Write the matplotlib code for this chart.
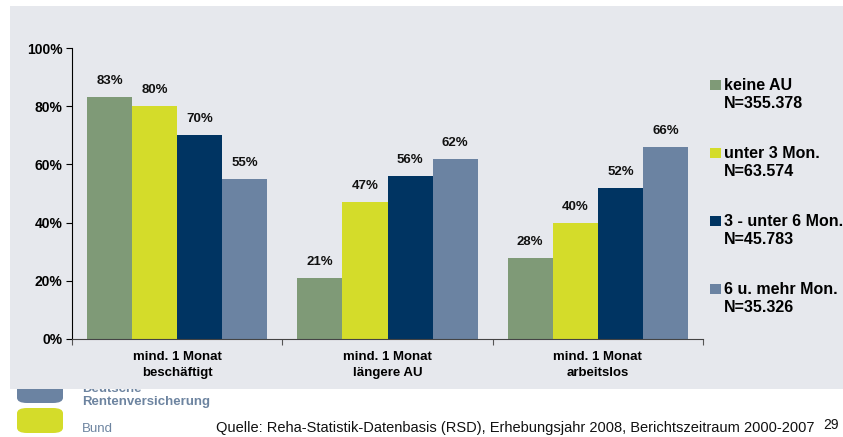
import numpy as np
import matplotlib
matplotlib.use("Agg")
import matplotlib.pyplot as plt
from matplotlib.patches import Rectangle, FancyBboxPatch

# data
categories = ["mind. 1 Monat\nbeschäftigt", "mind. 1 Monat\nlängere AU", "mind. 1 Monat\narbeitslos"]
series_names = ["keine AU", "unter 3 Mon.", "3 - unter 6 Mon.", "6 u. mehr Mon."]
series_n = ["N=355.378", "N=63.574", "N=45.783", "N=35.326"]
values = [
    [83, 21, 28],   # keine AU
    [80, 47, 40],   # unter 3 Mon.
    [70, 56, 52],   # 3 - unter 6 Mon.
    [55, 62, 66],   # 6 u. mehr Mon.
]
yticks = [0, 20, 40, 60, 80, 100]
colors = ["#7f9a77", "#d4dc2a", "#003462", "#6b83a2"]
source = "Quelle: Reha-Statistik-Datenbasis (RSD), Erhebungsjahr 2008, Berichtszeitraum 2000-2007"

plt.rcParams['font.family'] = ['Liberation Sans', 'DejaVu Sans']

W, H = 843, 437
fig = plt.figure(figsize=(W / 100, H / 100), dpi=100)
fig.patch.set_facecolor("white")

def fx(px):
    return px / W

def fy(py):
    return 1 - py / H

# logo (partly under the grey panel)
fig.patches.append(FancyBboxPatch((fx(17), fy(403)), fx(46), fy(380) - fy(403),
                                  boxstyle="round,pad=0,rounding_size=0.012",
                                  transform=fig.transFigure, fc="#6b83a2", ec="none", zorder=0.3))
fig.patches.append(FancyBboxPatch((fx(17), fy(433)), fx(46), fy(408) - fy(433),
                                  boxstyle="round,pad=0,rounding_size=0.012",
                                  transform=fig.transFigure, fc="#d4dc2a", ec="none", zorder=0.3))
logo_col = "#6d84a0"
fig.text(fx(82), fy(388.5), "Deutsche", color=logo_col, fontsize=9.5, fontweight="bold",
         va="center", zorder=0.4)
fig.text(fx(82), fy(402), "Rentenversicherung", color=logo_col, fontsize=9.5, fontweight="bold",
         va="center", zorder=0.4)
fig.text(fx(82), fy(429), "Bund", color=logo_col, fontsize=9.5,
         va="center", zorder=0.4)

# grey panel
fig.patches.append(Rectangle((fx(10), fy(389)), fx(833), fy(6) - fy(389),
                             transform=fig.transFigure, fc="#e6e8ed", ec="none", zorder=1))

ax = fig.add_axes([fx(72), fy(339), fx(703 - 72), fy(48) - fy(339)], zorder=2)
ax.set_facecolor("none")

n_series = len(values)
bw = 0.857 / n_series
x = np.arange(len(categories))
for i, (vals, col) in enumerate(zip(values, colors)):
    left = x + 0.0715 + i * bw
    bars = ax.bar(left, vals, width=bw, align="edge", color=col, edgecolor="none")
    for b, v in zip(bars, vals):
        ax.annotate(f"{v}%", (b.get_x() + b.get_width() / 2, v), xytext=(0, 11.5),
                    textcoords="offset points", ha="center", va="center",
                    fontsize=9.5, fontweight="bold", color="#111111")

ax.set_xlim(0, len(categories))
ax.set_ylim(0, 100)
ax.set_yticks(yticks)
ax.set_yticklabels([f"{t}%" for t in yticks], fontsize=10, fontweight="bold")
ax.set_xticks(np.arange(len(categories) + 1))
ax.set_xticklabels([])
ax.set_xticks(x + 0.5, minor=True)
ax.set_xticklabels(categories, minor=True, fontsize=9.5, fontweight="bold", linespacing=1.35)
ax.tick_params(axis="x", which="minor", length=0, pad=9)
ax.tick_params(axis="x", which="major", length=4, direction="out", color="#555555")
ax.tick_params(axis="y", length=4, direction="out", pad=3)
for s in ["top", "right"]:
    ax.spines[s].set_visible(False)
ax.spines["left"].set_color("black")
ax.spines["bottom"].set_color("#444444")

# legend drawn by hand
leg_y = [85, 153, 221, 289]
for name, n, col, yy in zip(series_names, series_n, colors, leg_y):
    fig.patches.append(Rectangle((fx(710), fy(yy + 5)), fx(11), fy(yy - 5) - fy(yy + 5),
                                 transform=fig.transFigure, fc=col, ec="none", zorder=3))
    fig.text(fx(724), fy(yy), name, fontsize=11.5, fontweight="bold", va="center", zorder=3)
    fig.text(fx(724), fy(yy + 18), n, fontsize=11.5, fontweight="bold", va="center", zorder=3)

fig.text(fx(216), fy(428), source, fontsize=10.5, va="center", color="#111111", zorder=3)
fig.text(fx(839), fy(425), "29", fontsize=10, va="center", ha="right", color="#111111", zorder=3)

fig.savefig("out.png", dpi=100, facecolor="white")
